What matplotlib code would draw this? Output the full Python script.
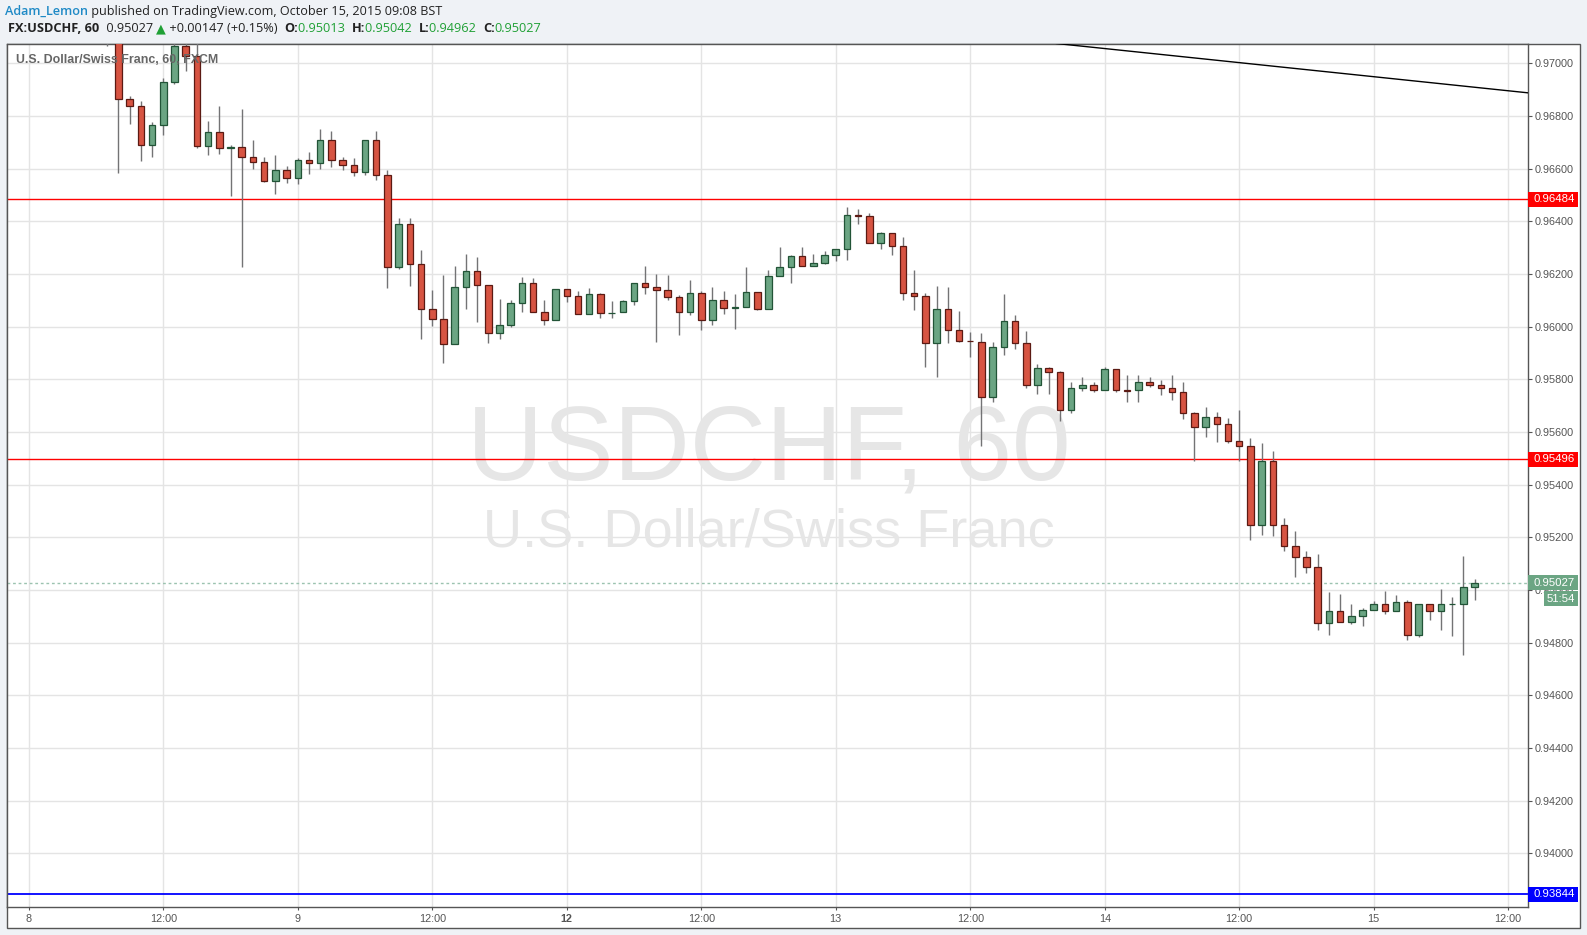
import matplotlib
matplotlib.use('Agg')
import matplotlib.pyplot as plt
import matplotlib.patches as patches
import matplotlib.transforms as mtransforms
import numpy as np

# hourly bars, index 0 = Oct 8 00:00 (weekend gap removed)
first_bar = 7
opens = [0.9713, 0.9711, 0.96863, 0.96837, 0.96692, 0.96768, 0.96928, 0.97066, 0.97027, 0.96687,
         0.96738, 0.96678, 0.96681, 0.96643, 0.96624, 0.96552, 0.96594, 0.96563, 0.96635, 0.96620,
         0.96711, 0.96632, 0.96616, 0.96586, 0.96708, 0.96575, 0.96228, 0.96391, 0.96239, 0.96068,
         0.96030, 0.95935, 0.96152, 0.96213, 0.96157, 0.95977, 0.96007, 0.96091, 0.96167, 0.96057,
         0.96026, 0.96144, 0.96117, 0.96049, 0.96125, 0.96053, 0.96056, 0.96097, 0.96166, 0.96151,
         0.96139, 0.96113, 0.96056, 0.96128, 0.96025, 0.96101, 0.96072, 0.96075, 0.96132, 0.96067,
         0.96192, 0.96227, 0.96268, 0.96230, 0.96242, 0.96272, 0.96295, 0.96425, 0.96420, 0.96318,
         0.96356, 0.96306, 0.96128, 0.96116, 0.95938, 0.96067, 0.95987, 0.95946, 0.95942, 0.95733,
         0.95923, 0.96022, 0.95938, 0.95778, 0.95843, 0.95828, 0.95684, 0.95766, 0.95777, 0.95758,
         0.95838, 0.95759, 0.95758, 0.95789, 0.95777, 0.95766, 0.95754, 0.95671, 0.95618, 0.95656,
         0.95629, 0.95565, 0.95549, 0.95249, 0.95492, 0.95246, 0.95167, 0.95125, 0.95087, 0.94875,
         0.94920, 0.94879, 0.94901, 0.94925, 0.94947, 0.94920, 0.94954, 0.94829, 0.94947, 0.94920,
         0.94947, 0.94947, 0.95013]
highs = [0.9717, 0.9713, 0.96876, 0.96857, 0.96777, 0.96943, 0.9709, 0.9709, 0.9710, 0.96781,
         0.96838, 0.96689, 0.96827, 0.96709, 0.96643, 0.96652, 0.96610, 0.96641, 0.96663, 0.96751,
         0.96743, 0.96644, 0.96642, 0.96708, 0.96743, 0.96596, 0.96414, 0.96414, 0.96290, 0.96141,
         0.96195, 0.96229, 0.96277, 0.96263, 0.96160, 0.96107, 0.96100, 0.96187, 0.96184, 0.96100,
         0.96144, 0.96144, 0.96137, 0.96146, 0.96129, 0.96096, 0.96103, 0.96166, 0.96232, 0.96201,
         0.96197, 0.96120, 0.96178, 0.96135, 0.96152, 0.96137, 0.96125, 0.96228, 0.96132, 0.96216,
         0.96304, 0.96272, 0.96304, 0.96276, 0.96287, 0.96295, 0.96454, 0.96447, 0.96432, 0.96359,
         0.96356, 0.96341, 0.96215, 0.96129, 0.96154, 0.96151, 0.96061, 0.95980, 0.95976, 0.95942,
         0.96124, 0.96044, 0.95984, 0.95859, 0.95847, 0.95832, 0.95790, 0.95808, 0.95792, 0.95849,
         0.95838, 0.95815, 0.95815, 0.95808, 0.95796, 0.95815, 0.95792, 0.95675, 0.95694, 0.95678,
         0.95652, 0.95682, 0.95576, 0.95557, 0.95527, 0.95272, 0.95225, 0.95149, 0.95137, 0.94994,
         0.94986, 0.94948, 0.94932, 0.94959, 0.94997, 0.94982, 0.94962, 0.94947, 0.94947, 0.95005,
         0.94975, 0.95128, 0.95042]
lows = [0.97065, 0.96585, 0.96771, 0.96630, 0.96646, 0.96728, 0.96920, 0.96972, 0.96680, 0.96653,
        0.96657, 0.96497, 0.96228, 0.96600, 0.96550, 0.96505, 0.96547, 0.96543, 0.96581, 0.96600,
        0.96608, 0.96596, 0.96573, 0.96578, 0.96558, 0.96148, 0.96220, 0.96154, 0.95953, 0.96003,
        0.95863, 0.95935, 0.96067, 0.96018, 0.95938, 0.95953, 0.95999, 0.96056, 0.96057, 0.96008,
        0.96026, 0.96094, 0.96049, 0.96049, 0.96034, 0.96034, 0.96056, 0.96084, 0.96123, 0.95941,
        0.96100, 0.95967, 0.96043, 0.95986, 0.96005, 0.96047, 0.95990, 0.96075, 0.96062, 0.96067,
        0.96192, 0.96165, 0.96230, 0.96230, 0.96238, 0.96249, 0.96252, 0.96389, 0.96318, 0.96297,
        0.96272, 0.96100, 0.96062, 0.95849, 0.95808, 0.95938, 0.95942, 0.95884, 0.95546, 0.95716,
        0.95891, 0.95914, 0.95766, 0.95744, 0.95744, 0.95642, 0.95672, 0.95757, 0.95754, 0.95758,
        0.95753, 0.95713, 0.95713, 0.95770, 0.95739, 0.95723, 0.95651, 0.95489, 0.95580, 0.95561,
        0.95557, 0.95492, 0.95189, 0.95208, 0.95204, 0.95147, 0.95048, 0.95063, 0.94847, 0.94828,
        0.94879, 0.94870, 0.94863, 0.94925, 0.94909, 0.94920, 0.94809, 0.94822, 0.94885, 0.94847,
        0.94824, 0.94752, 0.94962]
closes = [0.9711, 0.96863, 0.96837, 0.96692, 0.96768, 0.96928, 0.97066, 0.97027, 0.96687, 0.96738,
          0.96677, 0.96681, 0.96643, 0.96624, 0.96552, 0.96594, 0.96563, 0.96635, 0.96620, 0.96711,
          0.96632, 0.96616, 0.96586, 0.96708, 0.96575, 0.96228, 0.96391, 0.96239, 0.96068, 0.96030,
          0.95935, 0.96152, 0.96213, 0.96157, 0.95977, 0.96007, 0.96091, 0.96167, 0.96057, 0.96026,
          0.96144, 0.96117, 0.96049, 0.96125, 0.96053, 0.96054, 0.96099, 0.96166, 0.96151, 0.96139,
          0.96113, 0.96056, 0.96128, 0.96025, 0.96101, 0.96071, 0.96074, 0.96132, 0.96067, 0.96192,
          0.96227, 0.96268, 0.96230, 0.96242, 0.96272, 0.96295, 0.96424, 0.96421, 0.96318, 0.96356,
          0.96306, 0.96128, 0.96116, 0.95938, 0.96067, 0.95987, 0.95946, 0.95944, 0.95733, 0.95923,
          0.96022, 0.95938, 0.95778, 0.95843, 0.95828, 0.95684, 0.95767, 0.95777, 0.95758, 0.95838,
          0.95758, 0.95757, 0.95789, 0.95777, 0.95766, 0.95754, 0.95671, 0.95618, 0.95656, 0.95629,
          0.95565, 0.95549, 0.95249, 0.95492, 0.95246, 0.95166, 0.95125, 0.95087, 0.94875, 0.94920,
          0.94879, 0.94901, 0.94925, 0.94947, 0.94920, 0.94954, 0.94829, 0.94947, 0.94920, 0.94947,
          0.94948, 0.95011, 0.95027]

tick_pos = [0, 12, 24, 36, 48, 60, 72, 84, 96, 108, 120, 132]
tick_labels = ['8', '12:00', '9', '12:00', '12', '12:00', '13', '12:00', '14', '12:00', '15', '12:00']
price_ticks = [0.940, 0.942, 0.944, 0.946, 0.948, 0.950, 0.952, 0.954, 0.956, 0.958,
               0.960, 0.962, 0.964, 0.966, 0.968, 0.970]
red_levels = [0.96484, 0.95496]
blue_level = 0.93844
last_price = 0.95027
countdown = '51:54'
trend_x = [91.6, 133.6]
trend_y = [0.97076, 0.96889]

UP, UP_EDGE = '#6ba583', '#225437'
DOWN, DOWN_EDGE = '#d75442', '#5b1a13'
WICK = '#737375'
AXC = '#555555'
BG = '#eff2f6'
FONT = ['Liberation Sans', 'DejaVu Sans']

W, H = 1587, 935
fig = plt.figure(figsize=(W / 100, H / 100), dpi=100, facecolor=BG)
plt.rcParams['font.family'] = FONT

# white chart panel behind plot + axes labels
panel = patches.Rectangle((7 / W, 1 - 928 / H), (1580 - 7) / W, (928 - 43.5) / H,
                          transform=fig.transFigure, facecolor='white', edgecolor=AXC,
                          linewidth=1, zorder=0)
fig.add_artist(panel)

ax = fig.add_axes([7 / W, 1 - 906.7 / H, (1527.7 - 7) / W, (906.7 - 43.5) / H])
ax.set_facecolor('white')
ax.set_xlim(-1.945, 133.74)
ax.set_ylim(0.937976, 0.970756)

x = np.arange(first_bar, first_bar + len(opens))
o = np.array(opens); c = np.array(closes)
up = c >= o
fills = np.where(up, UP, DOWN)
edges = np.where(up, UP_EDGE, DOWN_EDGE)

ax.vlines(x, lows, highs, color=WICK, linewidth=1.0, zorder=3)
ax.bar(x, np.abs(c - o), bottom=np.minimum(o, c), width=0.58, color=fills,
       edgecolor=edges, linewidth=0.9, zorder=4)

# grid
ax.set_xticks(tick_pos)
ax.set_xticklabels(tick_labels)
ax.set_yticks(price_ticks)
ax.set_yticklabels(['%.5f' % p for p in price_ticks])
ax.grid(True, color='#e4e4e4', linewidth=1.0, zorder=0)
ax.set_axisbelow(True)
for lbl in ax.get_xticklabels():
    if lbl.get_text() == '12':
        lbl.set_fontweight('bold')

ax.yaxis.tick_right()
ax.tick_params(axis='y', length=3, width=0.8, color=AXC, labelcolor=AXC, labelsize=7.8, pad=2)
ax.tick_params(axis='x', length=2.5, width=0.8, color=AXC, labelcolor=AXC, labelsize=7.8, pad=3)
for s in ax.spines.values():
    s.set_color(AXC)
    s.set_linewidth(1)

# watermark
ax.text(0.501, 0.527, 'USDCHF, 60', transform=ax.transAxes, ha='center', va='center',
        fontsize=76, color='#e6e6e6', zorder=1)
ax.text(0.501, 0.433, 'U.S. Dollar/Swiss Franc', transform=ax.transAxes, ha='center',
        va='center', fontsize=39, color='#e6e6e6', zorder=1)
ax.text(0.0059, 0.981, 'U.S. Dollar/Swiss Franc, 60, FXCM', transform=ax.transAxes,
        ha='left', va='center', fontsize=8.9, fontweight='bold', color='#666666', zorder=6)

# drawn levels
for lv in red_levels:
    ax.axhline(lv, color='#ff0000', linewidth=1.0, zorder=2)
ax.axhline(blue_level, color='#0000ff', linewidth=1.3, zorder=2)
ax.axhline(last_price, color='#9cc3b0', linewidth=1.0, linestyle=(0, (2, 2)), zorder=2)
ax.axline((trend_x[0], trend_y[0]), (trend_x[1], trend_y[1]), color='black', linewidth=1.0, zorder=5)

# price labels on the scale
ypx = (906.7 - 43.5) / (ax.get_ylim()[1] - ax.get_ylim()[0])
mix = mtransforms.blended_transform_factory(ax.transAxes, ax.transData)
axw = 1527.7 - 7


def price_tag(y, text, fc, x0=1528, x1=1578):
    h = 7.5 / ypx
    r = patches.Rectangle(((x0 - 7) / axw, y - h), (x1 - x0) / axw, 2 * h, transform=mix,
                          facecolor=fc, edgecolor='none', clip_on=False, zorder=10)
    ax.add_patch(r)
    ax.text((x1 - 7 - 3) / axw, y, text, transform=mix, ha='right', va='center',
            fontsize=8.2, color='white', clip_on=False, zorder=11)


for lv in red_levels:
    price_tag(lv, '%.5f' % lv, '#ff0000')
price_tag(blue_level, '%.5f' % blue_level, '#0000ff')
price_tag(last_price, '%.5f' % last_price, UP)
price_tag(last_price - 16 / ypx, countdown, UP, x0=1544)

# header rows
renderer = fig.canvas.get_renderer()


def put_row(x0, y0, pieces, size):
    xp = x0
    for txt, col, wt in pieces:
        t = fig.text(xp / W, 1 - y0 / H, txt, color=col, fontweight=wt, fontsize=size,
                     ha='left', va='center', family=['Open Sans', 'DejaVu Sans'])
        xp = t.get_window_extent(renderer).x1


G = '#20a035'
put_row(5, 11, [('Adam_Lemon', '#1f8ac6', 'semibold'),
                (' published on TradingView.com, October 15, 2015 09:08 BST', '#222222', 'normal')], 9.05)
put_row(8, 29, [('FX:USDCHF, 60 ', '#222222', 'bold'),
                (' 0.95027 ', '#222222', 'normal'), ('\u25b2', G, 'normal'),
                (' +0.00147 (+0.15%)  ', '#222222', 'normal'),
                ('O:', '#222222', 'bold'), ('0.95013  ', G, 'normal'),
                ('H:', '#222222', 'bold'), ('0.95042  ', G, 'normal'),
                ('L:', '#222222', 'bold'), ('0.94962  ', G, 'normal'),
                ('C:', '#222222', 'bold'), ('0.95027', G, 'normal')], 9.2)

fig.savefig('out.png', dpi=100, facecolor=BG)
